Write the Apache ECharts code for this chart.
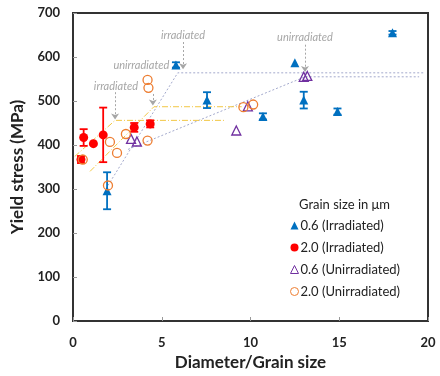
<!DOCTYPE html>
<html><head><meta charset="utf-8">
<script src="https://cdn.jsdelivr.net/npm/echarts@6/dist/echarts.min.js"></script>
<style>html,body{margin:0;padding:0;background:#fff}#c{width:440px;height:376px}</style>
</head><body><div id="c"></div>
<script>
// Data
var blueX = [1.92, 5.8, 7.55, 10.7, 12.5, 13.0, 14.9, 18.0];
var blueY = [296, 582, 502, 465, 587, 502, 476, 655];
var blueErr = [42, 6, 18, 7, 0, 19, 7, 4];
var redX = [0.45, 0.6, 1.15, 1.7, 3.45, 4.35];
var redY = [367, 417, 403, 423, 440, 448];
var redErr = [8, 19, 0, 62, 10, 8];
var purpleX = [3.27, 3.6, 9.2, 9.85, 13.0, 13.2];
var purpleY = [414, 408, 433, 488, 555, 557];
var orangeX = [0.55, 1.97, 2.08, 2.48, 2.98, 4.2, 4.25, 4.2, 9.6, 10.15];
var orangeY = [367, 308, 407, 382, 425, 548, 530, 410, 486, 492];
var grayLine1 = [[1.97, 308], [5.9, 564], [19.8, 564]];
var grayLine2 = [[3.1, 390], [13.07, 555], [19.5, 555]];
var yellowLine1 = [[0.1, 374], [2.37, 456], [8.6, 456]];
var yellowLine2 = [[0.96, 340], [4.56, 487], [9.5, 487]];
var noteText = ['irradiated', 'unirradiated', 'irradiated', 'unirradiated'];
var noteX = [2.42, 3.85, 6.2, 13.07];
var noteY = [532, 580, 648, 645];
var arrowX = [2.37, 4.5, 6.2, 13.07];
var arrowFrom = [520, 516, 634, 628];
var arrowTo = [458, 490, 572, 566];
var legendNames = ['0.6 (Irradiated)', '2.0 (Irradiated)', '0.6 (Unirradiated)', '2.0 (Unirradiated)'];

var BLUE = '#0070C0', RED = '#FF0000', PURPLE = '#7030A0', ORANGE = '#ED7D31';
var FONT = 'Lato, "Liberation Sans", sans-serif';

function pts(xs, ys) { return xs.map(function (x, i) { return [x, ys[i]]; }); }
function errData(xs, ys, es) { return xs.map(function (x, i) { return [x, ys[i], es[i]]; }); }
function errSeries(name, xs, ys, es, color) {
  return {
    name: name, type: 'custom', z: 3,
    data: errData(xs, ys, es).filter(function (d) { return d[2] > 0; }),
    renderItem: function (params, api) {
      var x = api.value(0), y = api.value(1), e = api.value(2);
      var hi = api.coord([x, y + e]), lo = api.coord([x, y - e]);
      var w = 4;
      return {
        type: 'group', children: [
          { type: 'line', shape: { x1: hi[0], y1: hi[1], x2: lo[0], y2: lo[1] }, style: { stroke: color, lineWidth: 1.8 } },
          { type: 'line', shape: { x1: hi[0] - w, y1: hi[1], x2: hi[0] + w, y2: hi[1] }, style: { stroke: color, lineWidth: 1.8 } },
          { type: 'line', shape: { x1: lo[0] - w, y1: lo[1], x2: lo[0] + w, y2: lo[1] }, style: { stroke: color, lineWidth: 1.8 } }
        ]
      };
    }
  };
}
function guide(name, data, color, type) {
  return { name: name, type: 'line', data: data, symbol: 'none', silent: true, z: 1,
    lineStyle: { color: color, width: 1, type: type } };
}

var noteLabels = noteText.map(function (t, i) {
  return { coord: [noteX[i], noteY[i]], value: t, symbolSize: 0,
    label: { show: true, formatter: t, color: '#A6A6A6', fontStyle: 'italic', fontSize: 11, fontFamily: FONT, position: 'inside' } };
});
var noteArrows = arrowX.map(function (x, i) {
  return [{ coord: [x, arrowFrom[i]] }, { coord: [x, arrowTo[i]] }];
});

var chart = echarts.init(document.getElementById('c'), null, { renderer: 'canvas' });
chart.setOption({
  animation: false,
  textStyle: { fontFamily: FONT },
  grid: { left: 73, right: 12, top: 13, bottom: 54, show: true, borderColor: '#333', borderWidth: 2, backgroundColor: 'transparent' },
  title: { text: 'Grain size in μm', left: 294, top: 193, textStyle: { fontSize: 13, fontWeight: 'normal', color: '#222', fontFamily: FONT } },
  legend: {
    data: legendNames, orient: 'vertical', left: 285, top: 214, itemGap: 9, itemWidth: 8, itemHeight: 8,
    itemStyle: { borderWidth: 1 },
    textStyle: { fontSize: 13, color: '#222', fontFamily: FONT, padding: [0, 0, 0, -3] }
  },
  xAxis: {
    type: 'value', min: 0, max: 20, interval: 5,
    name: 'Diameter/Grain size', nameLocation: 'middle', nameGap: 33,
    nameTextStyle: { fontSize: 17, fontWeight: 'bold', color: '#222', fontFamily: FONT },
    axisLine: { show: true, lineStyle: { color: '#333', width: 2 } },
    axisTick: { show: true, inside: true, length: 4, lineStyle: { color: '#999' } },
    axisLabel: { fontSize: 13, fontWeight: 'bold', color: '#222', margin: 15, fontFamily: FONT },
    splitLine: { show: false }
  },
  yAxis: {
    type: 'value', min: 0, max: 700, interval: 100,
    name: 'Yield stress (MPa)', nameLocation: 'middle', nameGap: 32,
    nameTextStyle: { fontSize: 17, fontWeight: 'bold', color: '#222', fontFamily: FONT },
    axisLine: { show: true, lineStyle: { color: '#333', width: 2 } },
    axisTick: { show: true, inside: true, length: 4, lineStyle: { color: '#999' } },
    axisLabel: { fontSize: 13, fontWeight: 'bold', color: '#222', margin: 13, fontFamily: FONT },
    splitLine: { show: false }
  },
  series: [
    guide('g1', grayLine1, '#A3A9CC', [2, 2]),
    guide('g2', grayLine2, '#A3A9CC', [2, 2]),
    guide('y1', yellowLine1, '#F2C744', [6, 2, 1, 2]),
    guide('y2', yellowLine2, '#F2C744', [6, 2, 1, 2]),
    {
      name: 'notes', type: 'scatter', data: [], silent: true,
      markPoint: { symbol: 'circle', symbolSize: 0, data: noteLabels, animation: false },
      markLine: { silent: true, symbol: ['none', 'arrow'], symbolSize: 6, label: { show: false },
        lineStyle: { color: '#A6A6A6', type: [2, 2], width: 1 }, data: noteArrows, animation: false }
    },
    errSeries('eb', blueX, blueY, blueErr, BLUE),
    errSeries('er', redX, redY, redErr, RED),
    { name: legendNames[0], type: 'scatter', symbol: 'triangle', symbolSize: 9, z: 4,
      data: pts(blueX, blueY), itemStyle: { color: BLUE, opacity: 1 } },
    { name: legendNames[1], type: 'scatter', symbol: 'circle', symbolSize: 9, z: 4,
      data: pts(redX, redY), itemStyle: { color: RED, opacity: 1 } },
    { name: legendNames[2], type: 'scatter', symbol: 'triangle', symbolSize: 9, z: 5,
      data: pts(purpleX, purpleY), itemStyle: { color: 'rgba(255,255,255,0)', borderColor: PURPLE, borderWidth: 1.3, opacity: 1 } },
    { name: legendNames[3], type: 'scatter', symbol: 'circle', symbolSize: 9, z: 5,
      data: pts(orangeX, orangeY), itemStyle: { color: 'rgba(255,255,255,0)', borderColor: ORANGE, borderWidth: 1.3, opacity: 1 } }
  ]
});
</script></body></html>
